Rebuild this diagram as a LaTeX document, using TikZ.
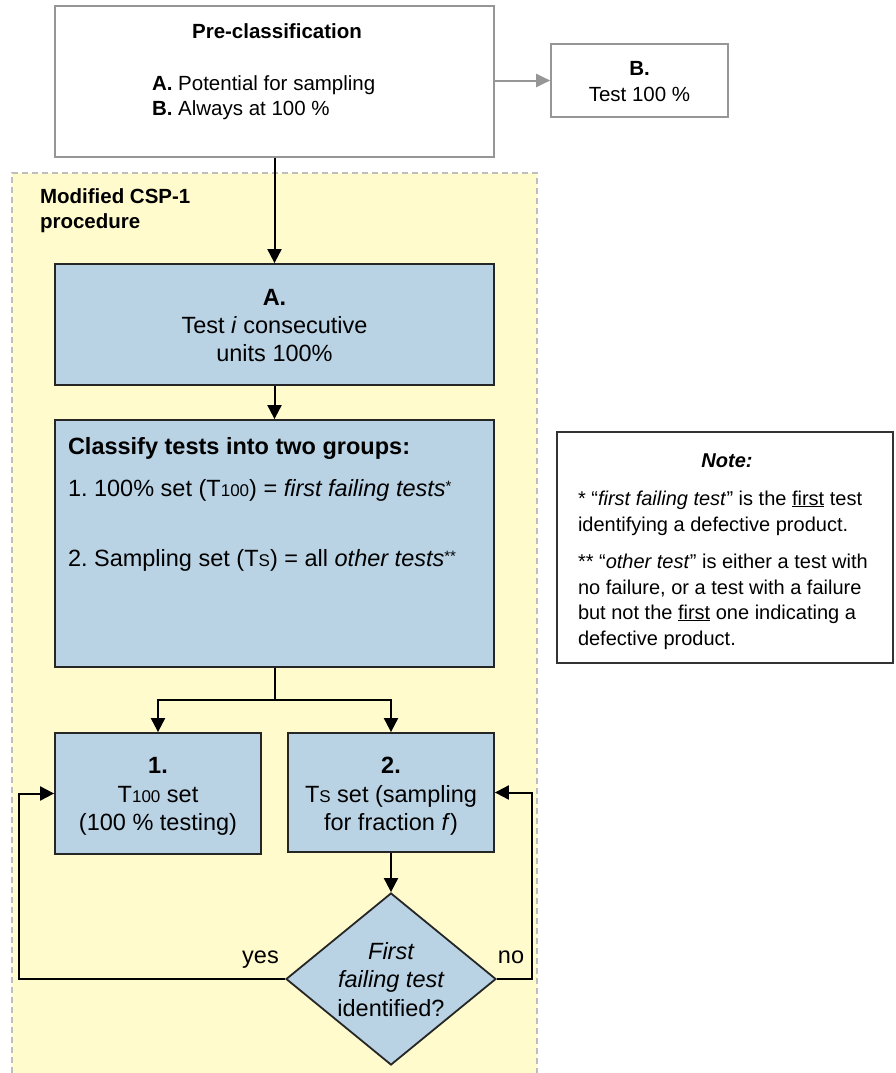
\documentclass[tikz,border=0pt]{standalone}
\usepackage{fontspec}
\setmainfont{Liberation Sans}
\usetikzlibrary{arrows.meta,shapes.geometric}
\definecolor{boxblue}{RGB}{185,211,229}
\definecolor{yellowbg}{RGB}{255,251,204}
\definecolor{boxgray}{RGB}{150,150,150}
\definecolor{dashgray}{RGB}{190,190,190}
\newcommand\fpre{\fontsize{20.5}{25}\selectfont}
\newcommand\fblue{\fontsize{23.5}{28}\selectfont}
\newcommand\fnote{\fontsize{20}{25}\selectfont}
\newcommand\fsubs{\fontsize{17}{20}\selectfont}
\newcommand\fast{\fontsize{15}{15}\selectfont}
\newcommand\astk[1]{\raisebox{5pt}{\fast #1}}
\tikzset{
  graybox/.style={draw=boxgray, line width=1.6pt, fill=white, inner sep=0pt},
  bluebox/.style={draw=black!85, line width=1.8pt, fill=boxblue, inner sep=0pt},
  notebox/.style={draw=black!80, line width=1.8pt, fill=white, inner sep=0pt},
  conn/.style={line width=2pt, draw=black, -{Triangle[length=14pt,width=14pt]}},
  grayconn/.style={line width=2pt, draw=boxgray, -{Triangle[length=14pt,width=13pt,fill=boxgray]}},
  line/.style={line width=2pt, draw=black},
  txt/.style={inner sep=0pt, outer sep=0pt, anchor=base},
  ltxt/.style={inner sep=0pt, outer sep=0pt, anchor=base west},
}
\begin{document}
\frenchspacing
\begin{tikzpicture}[x=1pt,y=-1pt]
\useasboundingbox (0,0) rectangle (895,1073);
% background region
\fill[yellowbg] (12,173) rectangle (537,1073);
\draw[dashgray, line width=1.5pt, dash pattern=on 6pt off 4pt] (12,1073) -- (12,173) -- (537,173) -- (537,1073);

% pre-classification
\node[graybox, minimum width=439pt, minimum height=151pt] (pre) at (274.5,81.5) {};
\node[txt, font=\fpre\bfseries] (ptitle) at (277,38) {Pre-classification};
\node[ltxt, font=\fpre] (pA) at (152,90) {\textbf{A.} Potential for sampling};
\node[ltxt, font=\fpre] (pB) at (152,115) {\textbf{B.} Always at 100 \%};

\node[graybox, minimum width=177pt, minimum height=73pt] (bbox) at (639.5,80.5) {};
\node[txt, font=\fpre\bfseries] (bB) at (639.5,75) {B.};
\node[txt, font=\fpre] (bT) at (639.5,101) {Test 100 \%};

\node[ltxt, font=\fpre\bfseries] (mod1) at (40,203) {Modified CSP-1};
\node[ltxt, font=\fpre\bfseries] (mod2) at (40,228) {procedure};

% box A
\node[bluebox, minimum width=439pt, minimum height=121pt] (boxA) at (274.5,324.5) {};
\node[txt, font=\fblue\bfseries] (a1) at (274.5,305) {A.};
\node[txt, font=\fblue] (a2) at (274.5,333) {Test \textit{i} consecutive};
\node[txt, font=\fblue] (a3) at (274.5,361) {units 100\%};

% classify
\node[bluebox, minimum width=439pt, minimum height=247pt] (cls) at (274.5,543.5) {};
\node[ltxt, font=\fblue\bfseries] (c1) at (68,454) {Classify tests into two groups:};
\node[ltxt, font=\fblue] (c2) at (68,496) {1. 100\% set (T{\fsubs 100}) = \textit{first failing tests}\astk{*}};
\node[ltxt, font=\fblue] (c3) at (68,566) {2. Sampling set (T{\fsubs S}) = all \textit{other tests}\astk{**}};

% box 1 and box 2
\node[bluebox, minimum width=206pt, minimum height=121pt] (box1) at (158,793.5) {};
\node[txt, font=\fblue\bfseries] (b11) at (158,773) {1.};
\node[txt, font=\fblue] (b12) at (158,802) {T{\fsubs 100} set};
\node[txt, font=\fblue] (b13) at (158,830) {(100 \% testing)};

\node[bluebox, minimum width=206pt, minimum height=119pt] (box2) at (391,792.5) {};
\node[txt, font=\fblue\bfseries] (b21) at (391,773) {2.};
\node[txt, font=\fblue] (b22) at (391,802) {T{\fsubs S} set (sampling};
\node[txt, font=\fblue] (b23) at (391,830) {for fraction \textit{f})};

% diamond
\node[diamond, draw=black!85, line width=1.8pt, fill=boxblue, inner sep=0pt, minimum width=210pt, minimum height=172pt] (dia) at (391,979) {};
\node[txt, font=\fblue\itshape] (d1) at (391,959) {First};
\node[txt, font=\fblue\itshape] (d2) at (391,987) {failing test};
\node[txt, font=\fblue] (d3) at (391,1016) {identified?};

\node[txt, font=\fblue] (yes) at (260.5,963) {yes};
\node[txt, font=\fblue] (no) at (511,963) {no};

% note
\node[notebox, minimum width=336pt, minimum height=231pt] (note) at (725,547.5) {};
\node[txt, font=\fnote\bfseries\itshape] (n0) at (727,467) {Note:};
\node[ltxt, font=\fnote] (n1) at (578,505) {* “\textit{first failing test}” is the \underline{first} test};
\node[ltxt, font=\fnote] (n2) at (578,531) {identifying a defective product.};
\node[ltxt, font=\fnote] (n3) at (578,568) {** “\textit{other test}” is either a test with};
\node[ltxt, font=\fnote] (n4) at (578,594) {no failure, or a test with a failure};
\node[ltxt, font=\fnote] (n5) at (578,619) {but not the \underline{first} one indicating a};
\node[ltxt, font=\fnote] (n6) at (578,645) {defective product.};

% connectors
\draw[grayconn] (bbox.west -| pre.east) -- (bbox.west);
\draw[conn] (pre.south) -- (boxA.north);
\draw[conn] (boxA.south) -- (cls.north);
\coordinate (br) at (274.5,700);
\draw[line] (cls.south) -- (br);
\draw[conn] (br) -| (box1.north);
\draw[conn] (br) -| (box2.north);
\draw[conn] (box2.south) -- (dia.north);
\coordinate (yl) at (19,979);
\coordinate (nr) at (532,979);
\draw[conn] (dia.west) -- (yl) |- (box1.west);
\draw[conn] (dia.east) -- (nr) |- (box2.east);
\end{tikzpicture}
\end{document}
